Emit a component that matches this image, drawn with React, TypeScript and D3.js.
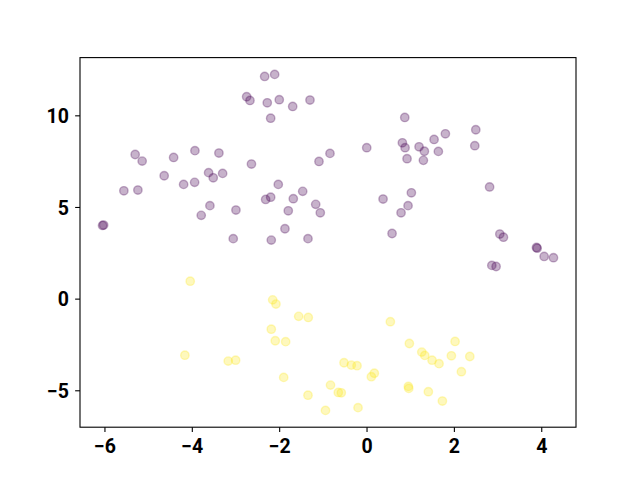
import React from "react";
import * as d3 from "d3";

// Cluster 0 (purple) points
const purpleX = [-2.756, -2.68, -2.344, -2.115, -2.284, -2.009, -1.702, -1.306, -2.206, -5.308, -5.148, -4.428, -3.94, -3.391, -4.644, -4.199, -3.947, -3.627, -3.521, -3.306, -2.646, -5.567, -5.246, -3.597, -3.796, -3.001, -6.055, -6.03, -3.063, -2.032, -1.473, -2.321, -2.206, -1.688, -1.803, -1.175, -1.07, -1.879, -2.192, -1.352, -0.848, -1.1, -0.007, 0.367, 0.864, 0.809, 0.871, 0.916, 1.191, 1.313, 1.535, 1.794, 1.29, 1.633, 2.49, 2.467, 2.806, 1.015, 0.939, 0.779, 0.573, 3.04, 3.123, 3.879, 3.895, 4.055, 4.268, 2.857, 2.955];
const purpleY = [11.04, 10.84, 12.15, 12.26, 10.71, 10.88, 10.51, 10.86, 9.87, 7.89, 7.53, 7.73, 8.1, 7.97, 6.73, 6.26, 6.37, 6.9, 6.62, 6.86, 7.37, 5.91, 5.95, 5.1, 4.57, 4.86, 4.02, 4.04, 3.3, 6.26, 5.88, 5.44, 5.56, 5.48, 4.82, 5.17, 4.71, 3.84, 3.22, 3.3, 7.95, 7.51, 8.26, 5.46, 9.91, 8.53, 8.26, 7.66, 8.31, 8.07, 8.71, 9.02, 7.57, 8.06, 9.24, 8.37, 6.12, 5.8, 5.1, 4.71, 3.58, 3.55, 3.38, 2.82, 2.78, 2.33, 2.26, 1.84, 1.78];

// Cluster 1 (yellow) points
const yellowX = [-2.16, -2.085, -1.565, -1.345, -2.192, -2.101, -1.863, -4.17, -3.178, -3.008, -1.908, -1.352, -0.951, -0.836, 0.534, 0.969, 1.253, 1.322, 1.489, 1.649, 2.016, 1.931, 2.353, 2.16, -0.527, -0.36, -0.229, 0.167, 0.099, -0.658, -0.589, -0.206, 0.946, 0.955, 1.404, 1.725, -4.048];
const yellowY = [-0.04, -0.27, -0.94, -1.0, -1.64, -2.27, -2.32, -3.06, -3.38, -3.33, -4.27, -5.24, -6.07, -4.69, -1.23, -2.42, -2.89, -3.07, -3.33, -3.52, -2.31, -3.09, -3.13, -3.96, -3.47, -3.6, -3.63, -4.04, -4.23, -5.09, -5.11, -5.92, -4.76, -4.87, -5.05, -5.56, 0.98];

const xTicks = [-6, -4, -2, 0, 2, 4];
const yTicks = [-5, 0, 5, 10];

const PURPLE = "#440154";
const YELLOW = "#fde725";

export default function App() {
  const W = 640, H = 480;
  const left = 80, right = 576, top = 57.6, bottom = 427.2;

  const allX = [...purpleX, ...yellowX];
  const allY = [...purpleY, ...yellowY];
  const [x0, x1] = d3.extent(allX) as [number, number];
  const [y0, y1] = d3.extent(allY) as [number, number];
  const mx = (x1 - x0) * 0.05, my = (y1 - y0) * 0.05;

  const x = d3.scaleLinear().domain([x0 - mx, x1 + mx]).range([left, right]);
  const y = d3.scaleLinear().domain([y0 - my, y1 + my]).range([bottom, top]);

  const pts: { x: number; y: number; c: string }[] = [];
  purpleX.forEach((v, i) => pts.push({ x: v, y: purpleY[i], c: PURPLE }));
  yellowX.forEach((v, i) => pts.push({ x: v, y: yellowY[i], c: YELLOW }));

  const font = "Roboto, 'DejaVu Sans', sans-serif";

  return (
    <svg width={W} height={H} style={{ position: "absolute", left: 0, top: 0, background: "#fff" }}>
      <rect x={0} y={0} width={W} height={H} fill="#fff" />
      {pts.map((p, i) => (
        <circle
          key={i}
          cx={x(p.x)}
          cy={y(p.y)}
          r={4.2}
          fill={p.c}
          fillOpacity={0.3}
          stroke={p.c}
          strokeOpacity={0.3}
          strokeWidth={1.39}
        />
      ))}
      <rect x={left} y={top} width={right - left} height={bottom - top} fill="none" stroke="#000" strokeWidth={1.1} />
      {xTicks.map((t) => (
        <g key={"x" + t}>
          <line x1={x(t)} x2={x(t)} y1={bottom} y2={bottom + 4.86} stroke="#000" strokeWidth={1.1} />
          <text x={x(t)} y={453.3} textAnchor="middle" fontFamily={font} fontWeight="bold" fontSize={19.5} fill="#000">
            {t < 0 ? "\u2212" + Math.abs(t) : String(t)}
          </text>
        </g>
      ))}
      {yTicks.map((t) => (
        <g key={"y" + t}>
          <line x1={left} x2={left - 4.86} y1={y(t)} y2={y(t)} stroke="#000" strokeWidth={1.1} />
          <text x={69} y={y(t) + 7.2} textAnchor="end" fontFamily={font} fontWeight="bold" fontSize={19.5} fill="#000">
            {t < 0 ? "\u2212" + Math.abs(t) : String(t)}
          </text>
        </g>
      ))}
    </svg>
  );
}
